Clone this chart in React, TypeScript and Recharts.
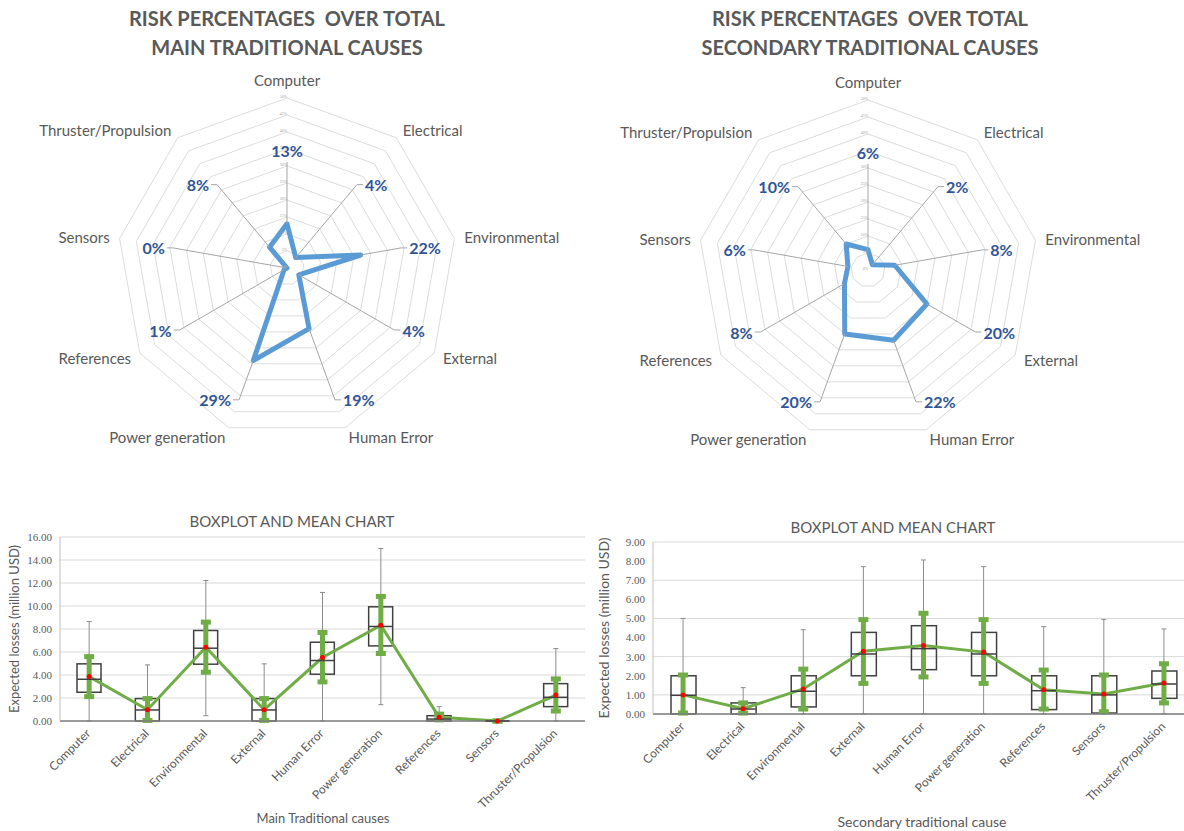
import React from "react";
import {
  Bar,
  CartesianGrid,
  ComposedChart,
  ErrorBar,
  Line,
  PolarAngleAxis,
  PolarGrid,
  PolarRadiusAxis,
  Radar,
  RadarChart,
  XAxis,
  YAxis,
} from "recharts";

const causes = [
  "Computer",
  "Electrical",
  "Environmental",
  "External",
  "Human Error",
  "Power generation",
  "References",
  "Sensors",
  "Thruster/Propulsion",
];

// risk share (%) per cause
const mainShare = [13, 4, 22, 4, 19, 29, 1, 0, 8];
const secondaryShare = [6, 2, 8, 20, 22, 20, 8, 6, 10];
const shareTicks = [0, 5, 10, 15, 20, 25, 30, 35, 40, 45, 50];

// expected losses, million USD - main traditional causes
const mainMin = [0, 0, 0.46, 0, 0, 1.42, 0, 0, 0];
const mainQ1 = [2.5, 0, 4.94, 0, 4.07, 6.53, 0, 0, 1.25];
const mainMedian = [3.63, 0.96, 6.33, 0.96, 5.26, 8.22, 0.17, 0, 2.06];
const mainQ3 = [4.97, 1.95, 7.87, 1.95, 6.85, 9.93, 0.46, 0, 3.25];
const mainMax = [8.65, 4.88, 12.22, 4.97, 11.18, 15.0, 1.25, 0, 6.3];
const mainMean = [3.86, 0.98, 6.42, 0.98, 5.52, 8.33, 0.32, 0, 2.26];
const mainCiLow = [2.12, 0.05, 4.24, 0.05, 3.4, 5.87, 0.1, 0, 0.87];
const mainCiHigh = [5.6, 1.95, 8.6, 1.95, 7.7, 10.83, 0.6, 0, 3.66];
const mainTicks = [0, 2, 4, 6, 8, 10, 12, 14, 16];

// expected losses, million USD - secondary traditional causes
const secMin = [0, 0, 0, 0, 0, 0, 0, 0, 0];
const secQ1 = [0, 0, 0.37, 2.0, 2.32, 2.0, 0.23, 0.05, 0.82];
const secMedian = [0.98, 0.26, 1.19, 3.14, 3.42, 3.14, 1.22, 1.0, 1.57];
const secQ3 = [2.0, 0.58, 2.0, 4.27, 4.62, 4.27, 2.0, 2.0, 2.25];
const secMax = [5.0, 1.38, 4.41, 7.71, 8.06, 7.71, 4.57, 4.94, 4.45];
const secMean = [1.0, 0.28, 1.31, 3.28, 3.59, 3.24, 1.27, 1.05, 1.62];
const secCiLow = [0.05, 0.05, 0.26, 1.6, 1.94, 1.6, 0.26, 0.12, 0.58];
const secCiHigh = [2.04, 0.58, 2.35, 4.94, 5.27, 4.94, 2.3, 2.04, 2.63];
const secTicks = [0, 1, 2, 3, 4, 5, 6, 7, 8, 9];

const FONT = "Lato, 'Open Sans', sans-serif";
const GRAY = "#595959";
const BLUE_LABEL = "#2f5597";

const OUTER_R = 170;

function angleOf(i: number) {
  return ((90 - i * (360 / causes.length)) * Math.PI) / 180;
}

function RiskRadar({
  values,
  cx,
  cy,
  width,
  height,
}: {
  values: number[];
  cx: number;
  cy: number;
  width: number;
  height: number;
}) {
  const data = causes.map((c, i) => ({ cause: c, share: values[i] }));

  const renderCauseTick = (props: any) => {
    const i = causes.indexOf(props.payload.value);
    const a = angleOf(i);
    const r = i === 0 ? OUTER_R + 18 : OUTER_R + 10;
    const x = cx + r * Math.cos(a);
    const y = cy - r * Math.sin(a);
    const c = Math.cos(a);
    const anchor = Math.abs(c) < 0.1 ? "middle" : c > 0 ? "start" : "end";
    return (
      <text
        key={i}
        x={x}
        y={y}
        textAnchor={anchor}
        dominantBaseline="central"
        fontSize={15}
        fontFamily={FONT}
        fill={GRAY}
      >
        {props.payload.value}
      </text>
    );
  };

  // leader line from the vertex out to a bold percentage label
  const renderShareLabel = (props: any) => {
    const i = props.index;
    const a = angleOf(i);
    const c = Math.cos(a);
    const s = Math.sin(a);
    const r = 118 - 12 * s + (s < -0.8 ? 11 : 0);
    const ex = cx + r * c;
    const ey = cy - r * s;
    const top = Math.abs(c) < 0.1;
    const dir = c > 0 ? 1 : -1;
    return (
      <g key={i}>
        <polyline
          points={
            top
              ? `${props.cx},${props.cy} ${ex},${ey}`
              : `${props.cx},${props.cy} ${ex},${ey} ${ex + dir * 6},${ey}`
          }
          fill="none"
          stroke="#a6a6a6"
          strokeWidth={1}
        />
        <text
          x={top ? ex : ex + dir * 8}
          y={top ? ey - 12 : ey}
          textAnchor={top ? "middle" : dir > 0 ? "start" : "end"}
          dominantBaseline="central"
          fontSize={16}
          fontWeight={700}
          fontFamily={FONT}
          fill={BLUE_LABEL}
        >
          {values[i]}%
        </text>
      </g>
    );
  };

  return (
    <RadarChart
      width={width}
      height={height}
      cx={cx}
      cy={cy}
      outerRadius={OUTER_R}
      data={data}
    >
      <PolarGrid gridType="polygon" radialLines={false} stroke="#dcdcdc" />
      <PolarAngleAxis
        dataKey="cause"
        tick={renderCauseTick}
        tickLine={false}
        axisLine={false}
      />
      <PolarRadiusAxis
        angle={90}
        domain={[0, 50]}
        ticks={shareTicks}
        axisLine={false}
        tickLine={false}
        orientation="left"
        tickFormatter={(v: number) => `${v}%`}
        tick={{ fontSize: 4, fill: "#a0a0a0" }}
      />
      <Radar
        dataKey="share"
        stroke="#5b9bd5"
        strokeWidth={5}
        strokeLinejoin="round"
        fill="none"
        fillOpacity={0}
        dot={renderShareLabel}
        isAnimationActive={false}
      />
    </RadarChart>
  );
}

function XTick(props: any) {
  const { x, y, payload } = props;
  return (
    <text
      x={0}
      y={0}
      transform={`translate(${x - 1}, ${y + 2}) rotate(-45)`}
      textAnchor="end"
      dominantBaseline="central"
      fontSize={12}
      fontFamily={FONT}
      fill={GRAY}
    >
      {payload.value}
    </text>
  );
}

function BoxMeanChart({
  min,
  q1,
  median,
  q3,
  max,
  mean,
  ciLow,
  ciHigh,
  ticks,
  width,
  height,
  margin,
  yWidth,
  xHeight,
  boxSize,
}: {
  min: number[];
  q1: number[];
  median: number[];
  q3: number[];
  max: number[];
  mean: number[];
  ciLow: number[];
  ciHigh: number[];
  ticks: number[];
  width: number;
  height: number;
  margin: { top: number; right: number; bottom: number; left: number };
  yWidth: number;
  xHeight: number;
  boxSize: number;
}) {
  const data = causes.map((c, i) => ({
    cause: c,
    min: min[i],
    q1: q1[i],
    median: median[i],
    q3: q3[i],
    max: max[i],
    mean: mean[i],
    ciLow: ciLow[i],
    ciHigh: ciHigh[i],
  }));
  const half = boxSize / 2;

  return (
    <ComposedChart width={width} height={height} data={data} margin={margin}>
      <CartesianGrid vertical={false} stroke="#d9d9d9" />
      <XAxis
        dataKey="cause"
        interval={0}
        height={xHeight}
        tick={<XTick />}
        tickLine={false}
        axisLine={{ stroke: "#7f7f7f", strokeWidth: 1.5 }}
      />
      <YAxis
        width={yWidth}
        domain={[0, ticks[ticks.length - 1]]}
        ticks={ticks}
        tickFormatter={(v: number) => v.toFixed(2)}
        tickLine={false}
        axisLine={{ stroke: "#bfbfbf" }}
        tick={{ fontSize: 11, fill: GRAY, fontFamily: "'Liberation Serif', serif" }}
      />
      {/* whiskers (min..max) and median tick */}
      <Line
        dataKey="median"
        stroke="none"
        isAnimationActive={false}
        activeDot={false}
        dot={(p: any) => (
          <line
            key={`m${p.index}`}
            x1={p.cx - half}
            x2={p.cx + half}
            y1={p.cy}
            y2={p.cy}
            stroke="#404040"
            strokeWidth={1.5}
          />
        )}
      >
        <ErrorBar
          dataKey={(d: any) => [d.median - d.min, d.max - d.median]}
          width={2.5}
          stroke="#8c8c8c"
          strokeWidth={1}
          direction="y"
        />
      </Line>
      {/* interquartile box */}
      <Bar
        dataKey={(d: any) => [d.q1, d.q3]}
        barSize={boxSize}
        isAnimationActive={false}
        shape={(p: any) => (
          <rect
            x={p.x}
            y={Math.min(p.y, p.y + p.height)}
            width={p.width}
            height={Math.abs(p.height)}
            fill="none"
            stroke="#404040"
            strokeWidth={1.5}
          />
        )}
      />
      {/* mean line with interval bars */}
      <Line
        dataKey="mean"
        stroke="#70ad47"
        strokeWidth={3}
        isAnimationActive={false}
        activeDot={false}
        dot={(p: any) => (
          <circle key={`d${p.index}`} cx={p.cx} cy={p.cy} r={2.5} fill="#ff0000" />
        )}
      >
        <ErrorBar
          dataKey={(d: any) => [d.mean - d.ciLow, d.ciHigh - d.mean]}
          width={5}
          stroke="#70ad47"
          strokeWidth={5}
          direction="y"
        />
      </Line>
    </ComposedChart>
  );
}

const abs = (left: number, top: number): React.CSSProperties => ({
  position: "absolute",
  left,
  top,
});

function YTitle({ x, y, size }: { x: number; y: number; size: number }) {
  return (
    <div
      style={{
        position: "absolute",
        left: x - 120,
        top: y - 10,
        width: 240,
        height: 20,
        lineHeight: "20px",
        textAlign: "center",
        transform: "rotate(-90deg)",
        fontFamily: FONT,
        fontSize: size,
        color: GRAY,
        whiteSpace: "nowrap",
      }}
    >
      Expected losses (million USD)
    </div>
  );
}

function CenteredText({
  cx,
  top,
  size,
  bold,
  lines,
  lineHeight,
}: {
  cx: number;
  top: number;
  size: number;
  bold?: boolean;
  lines: string[];
  lineHeight: number;
}) {
  return (
    <div
      style={{
        position: "absolute",
        left: cx - 300,
        top,
        width: 600,
        textAlign: "center",
        fontFamily: FONT,
        fontSize: size,
        fontWeight: bold ? 700 : 400,
        color: GRAY,
        lineHeight: `${lineHeight}px`,
        whiteSpace: "pre",
      }}
    >
      {lines.map((l) => (
        <div key={l}>{l}</div>
      ))}
    </div>
  );
}

export default function App() {
  return (
    <div
      style={{
        position: "absolute",
        left: 0,
        top: 0,
        width: 1184,
        height: 831,
        overflow: "hidden",
        background: "#fff",
      }}
    >
      <CenteredText
        cx={287}
        top={4}
        size={20}
        bold
        lineHeight={29}
        lines={["RISK PERCENTAGES  OVER TOTAL", "MAIN TRADITIONAL CAUSES"]}
      />
      <CenteredText
        cx={870}
        top={4}
        size={20}
        bold
        lineHeight={29}
        lines={["RISK PERCENTAGES  OVER TOTAL", "SECONDARY TRADITIONAL CAUSES"]}
      />
      <div style={abs(0, 50)}>
        <RiskRadar values={mainShare} cx={287} cy={218} width={580} height={440} />
      </div>
      <div style={abs(590, 50)}>
        <RiskRadar values={secondaryShare} cx={278} cy={220} width={580} height={440} />
      </div>

      <CenteredText cx={292} top={511} size={15} lineHeight={20} lines={["BOXPLOT AND MEAN CHART"]} />
      <CenteredText cx={893} top={517} size={15} lineHeight={20} lines={["BOXPLOT AND MEAN CHART"]} />

      <div style={abs(0, 510)}>
        <BoxMeanChart
          min={mainMin}
          q1={mainQ1}
          median={mainMedian}
          q3={mainQ3}
          max={mainMax}
          mean={mainMean}
          ciLow={mainCiLow}
          ciHigh={mainCiHigh}
          ticks={mainTicks}
          width={600}
          height={320}
          margin={{ top: 27, right: 15, bottom: 9, left: 15 }}
          yWidth={45}
          xHeight={100}
          boxSize={24}
        />
      </div>
      <div style={abs(590, 510)}>
        <BoxMeanChart
          min={secMin}
          q1={secQ1}
          median={secMedian}
          q3={secQ3}
          max={secMax}
          mean={secMean}
          ciLow={secCiLow}
          ciHigh={secCiHigh}
          ticks={secTicks}
          width={620}
          height={320}
          margin={{ top: 32, right: 16, bottom: 10, left: 15 }}
          yWidth={48}
          xHeight={106}
          boxSize={25}
        />
      </div>

      <YTitle x={14} y={629} size={13} />
      <YTitle x={604} y={628} size={14} />
      <CenteredText cx={323} top={808} size={13} lineHeight={20} lines={["Main Traditional causes"]} />
      <CenteredText cx={922} top={812} size={14} lineHeight={20} lines={["Secondary traditional cause"]} />
    </div>
  );
}
